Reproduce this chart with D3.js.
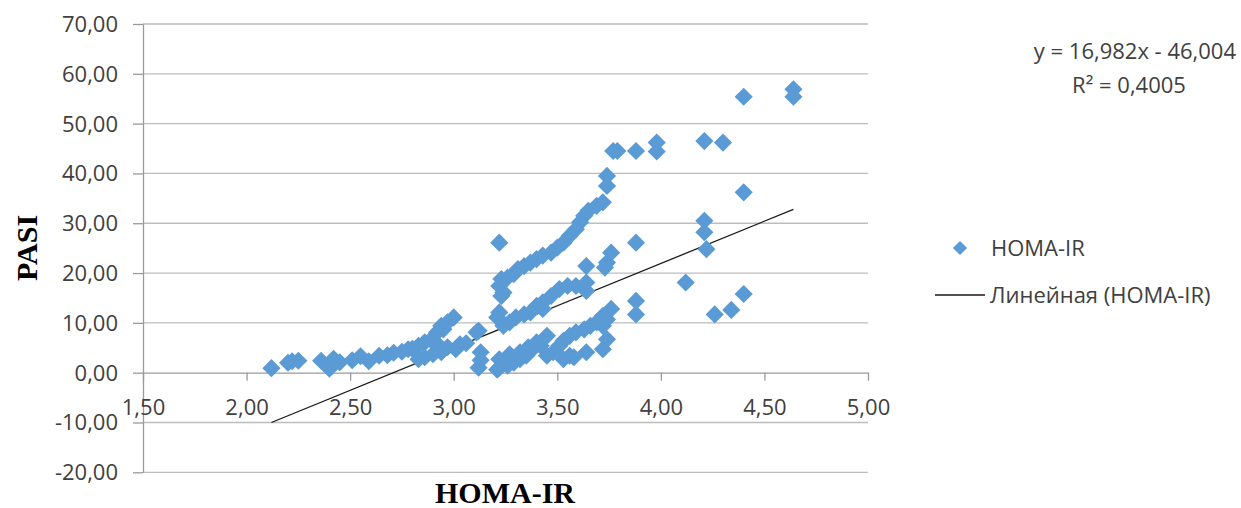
<!DOCTYPE html>
<meta charset="utf-8">
<style>
body { margin: 0; background: #fff; }
svg text { font-family: "Open Sans", "Liberation Sans", sans-serif; fill: #404040; }
.grid line { stroke: #bdbdbd; stroke-width: 1.3px; }
.axis path, .axis line { stroke: #9a9a9a; stroke-width: 1.3px; }
.title { font-family: "Liberation Serif", "Times New Roman", serif !important; font-weight: bold; fill: #000 !important; }
</style>
<svg width="1241" height="508"></svg>
<script src="https://cdn.jsdelivr.net/npm/d3@7"></script>
<script>

// HOMA-IR (x) and PASI (y)
var homaIR = [2.12, 2.20, 2.22, 2.25, 2.36, 2.40, 2.42, 2.45, 2.51, 2.55, 2.59, 2.64, 2.68, 2.71, 2.75, 2.78, 2.80, 2.83, 2.83, 2.86,
              2.86, 2.89, 2.90, 2.92, 2.94, 2.94, 2.95, 2.97, 2.97, 3.00, 3.01, 3.03, 2.93, 3.11, 3.12, 3.13, 3.12, 3.13, 3.22, 3.23,
              3.24, 3.22, 3.23, 3.26, 3.29, 3.31, 3.34, 3.37, 3.40, 3.43, 3.47, 3.50, 3.53, 3.56, 3.59, 3.61, 3.63, 3.65, 3.69, 3.72,
              3.74, 3.74, 3.77, 3.79, 3.88, 3.98, 3.98, 4.21, 4.30, 4.40, 4.64, 4.64, 4.40, 4.21, 4.21, 4.22, 3.88, 4.12, 4.40, 4.26,
              4.34, 3.88, 3.88, 3.76, 3.74, 3.73, 3.64, 3.64, 3.64, 3.59, 3.55, 3.51, 3.47, 3.43, 3.40, 3.37, 3.34, 3.30, 3.27, 3.24,
              3.21, 3.22, 3.43, 3.76, 3.72, 3.69, 3.66, 3.63, 3.59, 3.56, 3.53, 3.51, 3.48, 3.45, 3.42, 3.38, 3.35, 3.32, 3.29, 3.26,
              3.22, 3.21, 3.22, 3.27, 3.32, 3.36, 3.40, 3.45, 3.72, 3.56, 3.58, 3.64, 3.53, 3.74, 3.74, 3.72, 3.06];
var pasi   = [0.9, 2.0, 2.3, 2.4, 2.4, 0.8, 2.8, 2.1, 2.5, 3.3, 2.3, 3.4, 3.5, 4.0, 4.2, 4.7, 4.8, 5.4, 2.7, 6.1,
              3.1, 6.6, 3.7, 8.1, 4.1, 9.4, 8.7, 10.1, 5.1, 11.1, 4.7, 5.7, 5.4, 8.1, 8.4, 4.1, 1.0, 2.5, 26.1, 15.4,
              16.1, 17.4, 18.8, 19.1, 19.8, 20.8, 21.4, 22.1, 22.8, 23.5, 24.1, 25.1, 26.1, 27.5, 28.8, 30.2, 31.5, 32.5, 33.5, 34.2,
              39.5, 37.5, 44.5, 44.5, 44.5, 46.2, 44.4, 46.5, 46.2, 55.4, 56.9, 55.4, 36.2, 30.5, 28.2, 24.8, 26.1, 18.1, 15.8, 11.7,
              12.6, 14.4, 11.7, 24.1, 22.1, 21.1, 21.4, 18.1, 16.4, 17.4, 17.4, 16.8, 15.4, 14.1, 13.4, 12.1, 11.7, 11.1, 10.1, 9.4,
              11.1, 12.1, 12.8, 12.8, 11.4, 10.1, 9.4, 8.7, 8.1, 7.4, 6.4, 5.4, 4.1, 3.4, 5.4, 4.7, 3.4, 2.7, 2.0, 1.4,
              1.0, 0.6, 2.7, 3.7, 4.1, 5.1, 6.1, 7.4, 4.7, 3.4, 3.1, 4.1, 2.7, 6.7, 10.7, 9.4, 5.9];

var slope = 16.982, intercept = -46.004;
var eqLabel = "y = 16,982x - 46,004";
var r2Label = "R² = 0,4005";
var xTicks = [1.5, 2, 2.5, 3, 3.5, 4, 4.5, 5];
var yTicks = [-20, -10, 0, 10, 20, 30, 40, 50, 60, 70];
var seriesName = "HOMA-IR";
var trendName = "Линейная (HOMA-IR)";

var svg = d3.select("svg");
var blue = "#5b9bd5";

var ru = d3.formatLocale({decimal: ",", thousands: " ", grouping: [3], currency: ["", ""], minus: "-"});
var fmt = ru.format(".2f");

var x = d3.scaleLinear().domain([1.5, 5]).range([143, 868]);
var y = d3.scaleLinear().domain([-20, 70]).range([472.3, 24]);

// gridlines
svg.append("g").attr("class", "grid")
    .selectAll("line")
    .data(yTicks.filter(function(d) { return d != 0; }))
    .enter().append("line")
    .attr("x1", x(1.5)).attr("x2", x(5))
    .attr("y1", function(d) { return y(d); })
    .attr("y2", function(d) { return y(d); });

// y axis
var yAxis = svg.append("g").attr("class", "axis")
    .attr("transform", "translate(" + x(1.5) + ",0)")
    .call(d3.axisLeft(y).tickValues(yTicks).tickFormat(fmt).tickSize(10).tickPadding(15).tickSizeOuter(0));
yAxis.selectAll("text").style("font-size", "22px").attr("fill", "#404040").attr("dy", "0.34em");

// x axis sitting at y = 0
var xAxis = svg.append("g").attr("class", "axis")
    .attr("transform", "translate(0," + y(0) + ")")
    .call(d3.axisBottom(x).tickValues(xTicks).tickFormat(fmt).tickSize(8).tickSizeOuter(0));
xAxis.selectAll("text").style("font-size", "22px").attr("fill", "#404040")
    .attr("y", 35).attr("dy", "0.34em");

// trendline
var xs = d3.extent(homaIR);
svg.append("line")
    .attr("x1", x(xs[0])).attr("y1", y(slope * xs[0] + intercept))
    .attr("x2", x(xs[1])).attr("y2", y(slope * xs[1] + intercept))
    .attr("stroke", "#1a1a1a").attr("stroke-width", 1.3);

// points
var diamond = d3.symbol().type(d3.symbolSquare).size(165);
svg.append("g")
    .selectAll("path")
    .data(d3.range(homaIR.length))
    .enter().append("path")
    .attr("d", diamond)
    .attr("fill", blue)
    .attr("transform", function(i) {
        return "translate(" + x(homaIR[i]) + "," + y(pasi[i]) + ") rotate(45)";
    });

// axis titles
svg.append("text").attr("class", "title")
    .attr("transform", "translate(37,248) rotate(-90)")
    .attr("text-anchor", "middle")
    .style("font-size", "30px")
    .text("PASI");
svg.append("text").attr("class", "title")
    .attr("x", 505).attr("y", 503)
    .attr("text-anchor", "middle")
    .style("font-size", "30px")
    .text("HOMA-IR");

// equation
svg.append("text").attr("x", 1236).attr("y", 51).attr("dy", "0.35em")
    .attr("text-anchor", "end").style("font-size", "22px").text(eqLabel);
svg.append("text").attr("x", 1129).attr("y", 85).attr("dy", "0.35em")
    .attr("text-anchor", "middle").style("font-size", "22px").text(r2Label);

// legend
svg.append("path")
    .attr("d", d3.symbol().type(d3.symbolSquare).size(100))
    .attr("fill", blue)
    .attr("transform", "translate(960,248) rotate(45)");
svg.append("text").attr("x", 991).attr("y", 248).attr("dy", "0.35em")
    .style("font-size", "22px").text(seriesName);
svg.append("line")
    .attr("x1", 935).attr("x2", 985).attr("y1", 295).attr("y2", 295)
    .attr("stroke", "#1a1a1a").attr("stroke-width", 1.3);
svg.append("text").attr("x", 990).attr("y", 295).attr("dy", "0.35em")
    .style("font-size", "22px").text(trendName);

</script>
